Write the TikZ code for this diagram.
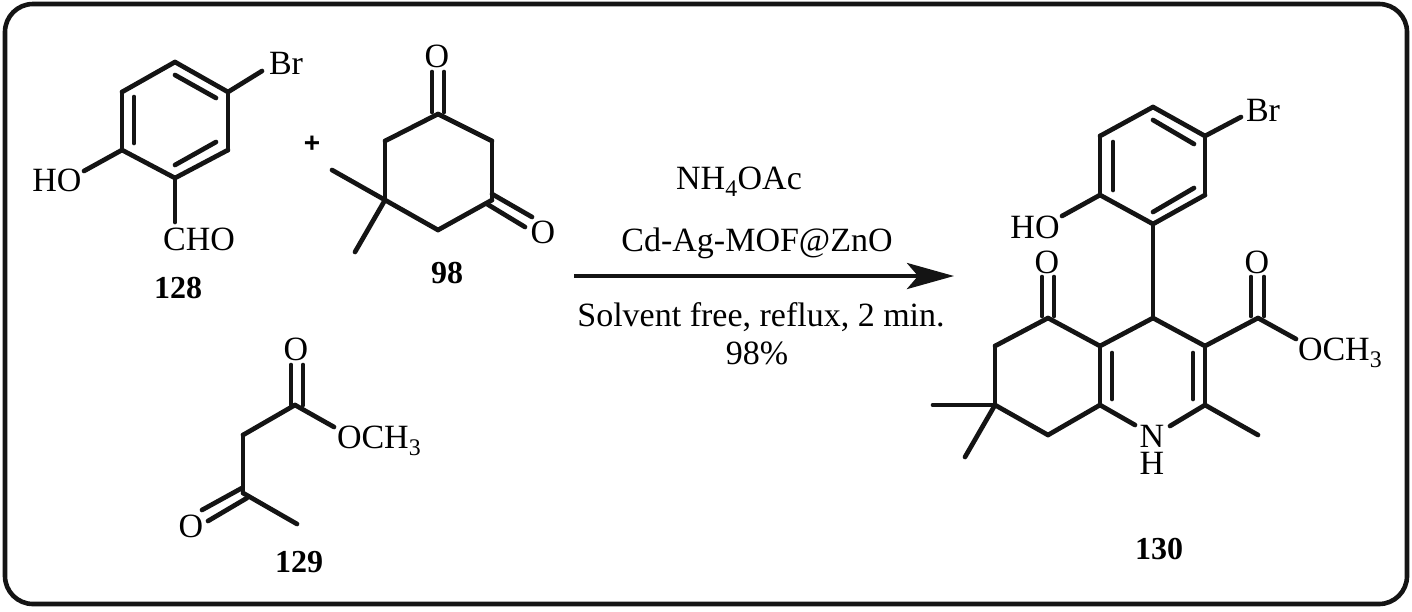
\documentclass[tikz,border=0pt]{standalone}
\usepackage{fontspec}
\setmainfont{Liberation Serif}
\newfontfamily\plusfont{Liberation Sans}
\usetikzlibrary{arrows.meta}
\tikzset{
  bond/.style={line width=4.7pt,line cap=round,line join=round,black!92},
  atom/.style={inner sep=0pt,outer sep=0pt,font=\fontsize{34}{34}\selectfont,text height=22pt,text depth=0pt},
  chem/.style={atom,anchor=west},
  cpd/.style={inner sep=0pt,font=\fontsize{32}{32}\selectfont\bfseries,text height=21pt,text depth=0pt},
  cond/.style={atom},
  frame/.style={line width=4.6pt,rounded corners=28pt,black!92}
}
\newcommand{\pts}[1]{\foreach \nn/\xx/\yy in {#1}{\coordinate (\nn) at (\xx,\yy);}}
\newcommand{\bonds}[1]{\foreach \aa/\bb in {#1}{\draw[bond] (\aa) -- (\bb);}}
\begin{document}
\begin{tikzpicture}[x=1pt,y=-1pt]
\useasboundingbox (0,0) rectangle (1412,611);
\draw[frame] (5,4) rectangle (1407,604);

% 128
\pts{a1/175/62,a2/228/92,a3/228/150,a4/175/178,a5/122/150,a6/122/92,
 aBr/262/71,aOH/84/171,aCHO/175/222,
 ai1/175/75,ai2/216/98,ai3/134/97,ai4/134/143,ai5/175/165,ai6/216/142}
\bonds{a1/a2,a2/a3,a3/a4,a4/a5,a5/a6,a6/a1,a2/aBr,a5/aOH,a4/aCHO,ai1/ai2,ai3/ai4,ai5/ai6}
\node[atom] (tBr1) at (286,63) {Br};
\node[atom] (tHO1) at (57,180) {HO};
\node[atom] (tCHO) at (199,239) {CHO};
\node[cpd] (n128) at (178,288) {128};
\node[inner sep=0pt,font=\fontsize{28}{28}\plusfont\bfseries\selectfont] (plus) at (312,144) {+};

% 98
\pts{b1/438/114,b2/492/141,b3/492/200,b4/438/230,b5/385/200,b6/385/141,
 bMe1/332/170,bMe2/355/252,
 bOa1/432/72,bOa2/432/112,bOb1/444/72,bOb2/444/112,
 bOc1/492/194,bOc2/532/217,bOd1/487/204,bOd2/525/227}
\bonds{b1/b2,b2/b3,b3/b4,b4/b5,b5/b6,b6/b1,b5/bMe1,b5/bMe2,bOa1/bOa2,bOb1/bOb2,bOc1/bOc2,bOd1/bOd2}
\node[atom] (tOb1) at (437,56) {O};
\node[atom] (tOb2) at (543,232) {O};
\node[cpd] (n98) at (447,273) {98};

% 129
\pts{c1/295/405,c2/243/435,c3/243/493,c4/297/524,cO/334/427,
 cOa1/291/365,cOa2/291/405,cOb1/303/365,cOb2/303/405,
 cOc1/242/488,cOc2/202/510,cOd1/247/498,cOd2/208/521}
\bonds{c1/c2,c2/c3,c3/c4,c1/cO,cOa1/cOa2,cOb1/cOb2,cOc1/cOc2,cOd1/cOd2}
\node[atom] (tOc1) at (296,349) {O};
\node[chem] (tOMe1) at (337,437) {OCH\textsubscript{3}};
\node[atom] (tOc2) at (191,526) {O};
\node[cpd] (n129) at (299,562) {129};

% conditions and arrow
\node[cond] (t1) at (739,178) {NH\textsubscript{4}OAc};
\node[cond] (t2) at (757,240) {Cd-Ag-MOF@ZnO};
\node[cond] (t3) at (761,315) {Solvent free, reflux, 2 min.};
\node[cond] (t4) at (757,353) {98\%};
\coordinate (arA) at (574,276);
\coordinate (arB) at (954,276);
\draw[line width=4.6pt,-{Stealth[length=47pt,width=26pt,inset=11pt]},black!92] (arA) -- (arB);

% 130
\pts{d1/1153/107,d2/1205/136,d3/1205/195,d4/1153/224,d5/1100/195,d6/1100/136,
 dBr/1241/117,dOH/1062/216,
 di1/1153/120,di2/1194/144,di3/1113/142,di4/1113/190,di5/1153/212,di6/1194/188,
 e4/1153/318,e3/1205/346,e2/1205/405,eN1/1170/426,eN2/1135/425,e8a/1100/405,e4a/1100/346,
 e5/1048/318,e6/995/346,e7/995/405,e8/1048/435,eMe1/933/405,eMe2/965/457,eMe3/1258/435,
 eC/1258/318,eO/1296/339,
 ei1/1112/353,ei2/1112/399,ei3/1193/353,ei4/1193/399,
 eOa1/1042/277,eOa2/1042/316,eOb1/1054/277,eOb2/1054/316,
 eOc1/1251/277,eOc2/1251/316,eOd1/1264/277,eOd2/1264/316}
\bonds{d1/d2,d2/d3,d3/d4,d4/d5,d5/d6,d6/d1,d2/dBr,d5/dOH,di1/di2,di3/di4,di5/di6,d4/e4,
 e4/e3,e3/e2,e2/eN1,eN2/e8a,e8a/e4a,e4a/e4,e4a/e5,e5/e6,e6/e7,e7/e8,e8/e8a,e7/eMe1,e7/eMe2,e2/eMe3,
 e3/eC,eC/eO,ei1/ei2,ei3/ei4,eOa1/eOa2,eOb1/eOb2,eOc1/eOc2,eOd1/eOd2}
\node[atom] (tBr2) at (1263,110) {Br};
\node[atom] (tHO2) at (1035,227) {HO};
\node[atom] (tO5) at (1047,262) {O};
\node[atom] (tOe) at (1257,262) {O};
\node[chem] (tOMe2) at (1298,349) {OCH\textsubscript{3}};
\node[inner sep=0pt,font=\fontsize{34}{27}\selectfont,align=center] (tNH) at (1152,450) {N\\H};
\node[cpd] (n130) at (1159,549) {130};
\end{tikzpicture}
\end{document}
